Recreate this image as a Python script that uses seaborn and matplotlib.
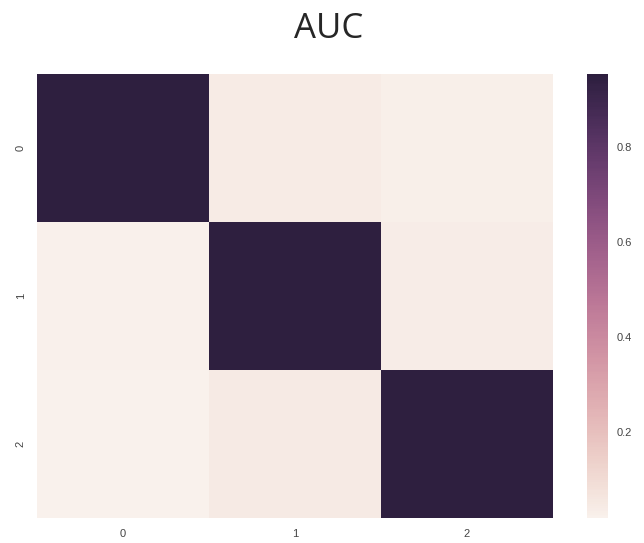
import numpy as np
import pandas as pd
import seaborn as sns
import matplotlib
matplotlib.use("Agg")
import matplotlib.pyplot as plt

labels = ["0", "1", "2"]
row0 = [0.95, 0.045, 0.028]
row1 = [0.026, 0.95, 0.036]
row2 = [0.02, 0.048, 0.95]
title = "AUC"

sns.set_style("white")
plt.rcParams["font.family"] = ["Liberation Sans", "DejaVu Sans"]

data = pd.DataFrame([row0, row1, row2], index=labels, columns=labels)
cmap = sns.cubehelix_palette(light=.95, as_cmap=True)

fig = plt.figure(figsize=(6.44, 5.43), dpi=100)
ax = fig.add_axes([37/644, 25/543, 516/644, 444/543])
cax = fig.add_axes([587/644, 25/543, 21/644, 444/543])
sns.heatmap(data, ax=ax, cbar_ax=cax, cmap=cmap, vmin=0.02, vmax=0.954)
ax.tick_params(length=0, labelsize=8, labelcolor="#444444", pad=8)
ax.set_yticklabels(labels, rotation=90, va="center")
ax.set_xticklabels(labels, rotation=0)
cax.tick_params(length=0, labelsize=8, labelcolor="#444444", pad=6)
cax.set_yticks([0.2, 0.4, 0.6, 0.8])
cax.set_yticklabels(["0.2", "0.4", "0.6", "0.8"])
for s in cax.spines.values():
    s.set_visible(False)
fig.suptitle(title, x=0.51, y=0.978, fontsize=25, family=["Open Sans", "DejaVu Sans"], va="top")
fig.savefig("out.png", dpi=100)
